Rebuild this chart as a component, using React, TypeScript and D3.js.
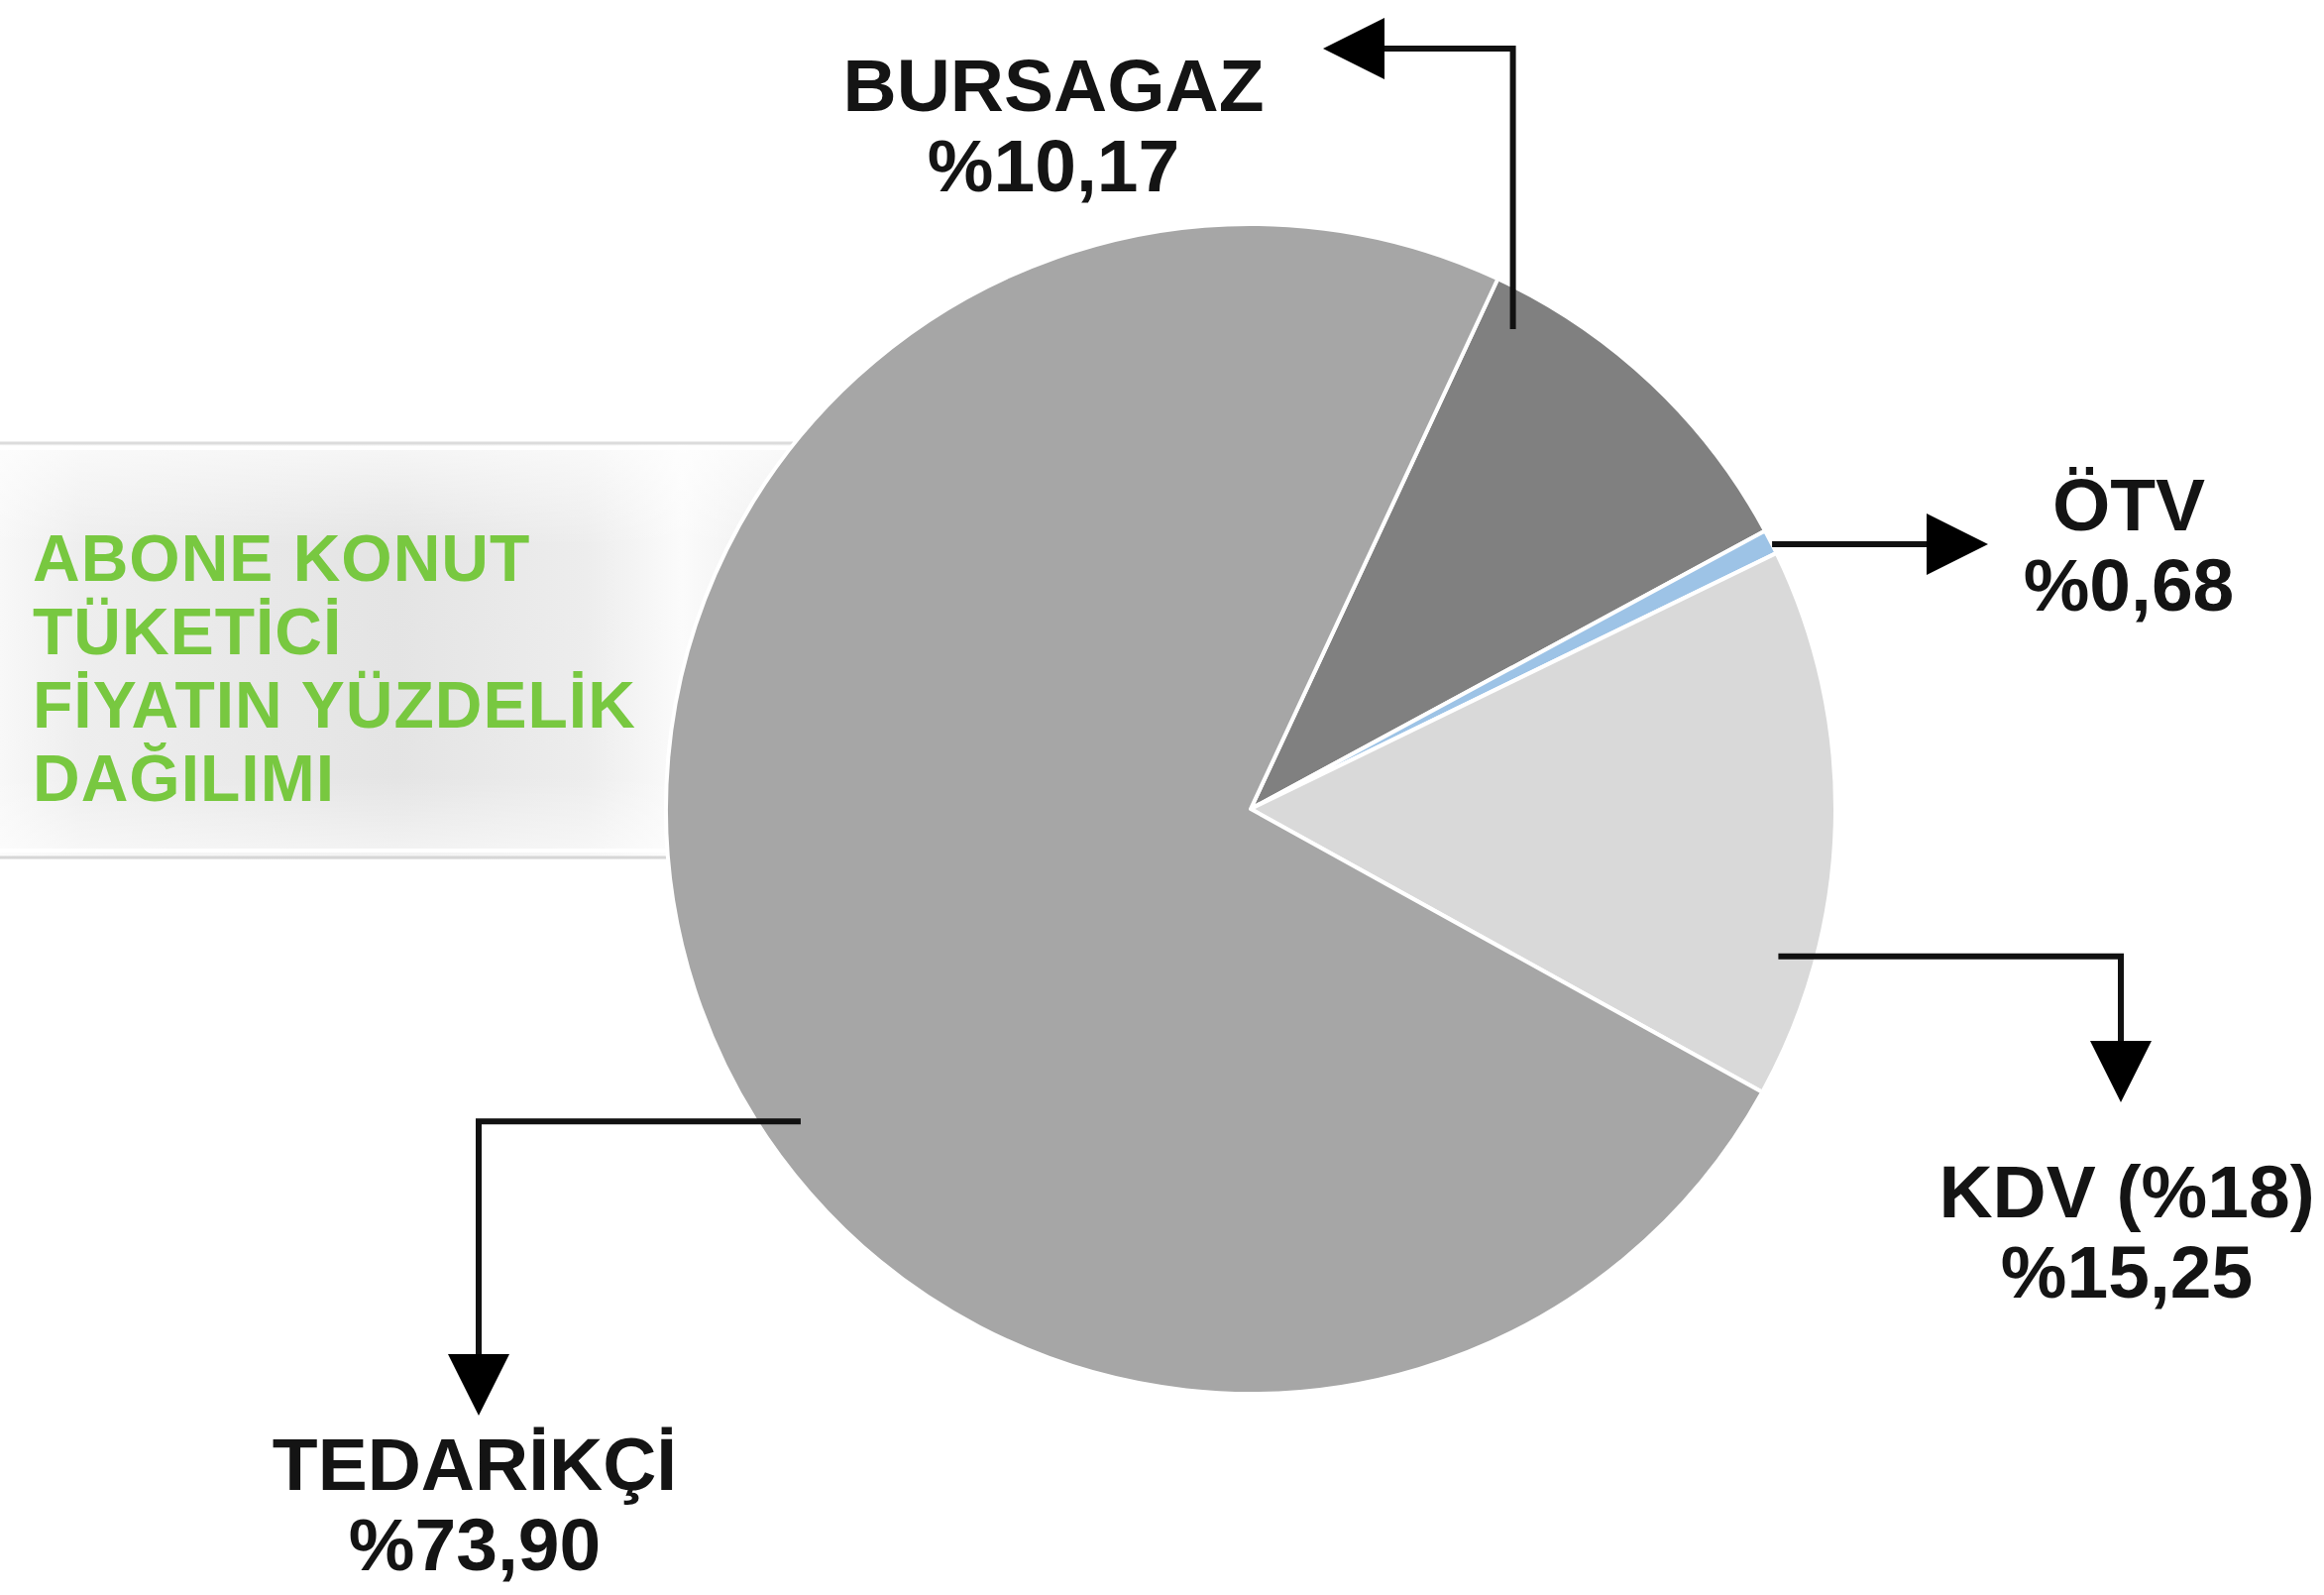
import { useEffect, useRef } from 'react';
import * as d3 from 'd3';

const categories = ['BURSAGAZ', 'ÖTV', 'KDV (%18)', 'TEDARİKÇİ'];
const shares = [10.17, 0.68, 15.25, 73.9];
const sliceColors = ['#808080', '#9dc3e6', '#d9d9d9', '#a6a6a6'];
const titleLines = ['ABONE KONUT', 'TÜKETİCİ', 'FİYATIN YÜZDELİK', 'DAĞILIMI'];

const W = 2345;
const H = 1609;
const cx = 1262;
const cy = 816;
const R = 590;
const startDeg = 25;
const font = '"Liberation Sans", Arial, Helvetica, sans-serif';

// t = where along the slice the callout leaves it, r = fraction of radius
const callouts = [
    { t: 0.1, r: 0.935, bends: p => [[p[0], 49]], tip: () => [1335, 49], label: [1063, 112] },
    { t: 0.6, r: 1.0, bends: () => [], tip: p => [2006, p[1]], label: [2148, 535] },
    { t: 0.757, r: 0.937, bends: p => [[2140, p[1]]], tip: () => [2140, 1112], label: [2146, 1228] },
    { t: 0.437, r: 0.937, bends: p => [[483, p[1]]], tip: () => [483, 1428], label: [479, 1503] },
];

const fmt = v => '%' + v.toFixed(2).replace('.', ',');

function App() {
    const ref = useRef(null);

    useEffect(() => {
        const svg = d3.select(ref.current);
        svg.selectAll('*').remove();

        const defs = svg.append('defs');
        const gx = defs.append('linearGradient').attr('id', 'bannerX');
        [['0', '#f8f8f8'], ['0.1', '#eeeeee'], ['0.5', '#e4e4e4'], ['0.74', '#ededed'], ['0.86', '#fbfbfb'], ['1', '#ececec']]
            .forEach(([o, c]) => gx.append('stop').attr('offset', o).attr('stop-color', c));
        const gy = defs.append('linearGradient').attr('id', 'bannerY')
            .attr('x1', 0).attr('y1', 0).attr('x2', 0).attr('y2', 1);
        [['0', '#ffffff', 0.7], ['0.25', '#ffffff', 0], ['0.8', '#ffffff', 0], ['1', '#ffffff', 0.6]]
            .forEach(([o, c, a]) => gy.append('stop').attr('offset', o).attr('stop-color', c).attr('stop-opacity', a));

        // banner behind the pie
        const banner = svg.append('g');
        banner.append('rect').attr('x', 0).attr('y', 446).attr('width', 800).attr('height', 421).attr('fill', 'url(#bannerX)');
        banner.append('rect').attr('x', 0).attr('y', 446).attr('width', 800).attr('height', 421).attr('fill', 'url(#bannerY)');
        banner.append('line').attr('x1', 0).attr('x2', 800).attr('y1', 447).attr('y2', 447)
            .attr('stroke', '#dcdcdc').attr('stroke-width', 3);
        banner.append('line').attr('x1', 0).attr('x2', 800).attr('y1', 452).attr('y2', 452)
            .attr('stroke', '#ffffff').attr('stroke-width', 4);
        banner.append('line').attr('x1', 0).attr('x2', 800).attr('y1', 858).attr('y2', 858)
            .attr('stroke', '#ffffff').attr('stroke-width', 4);
        banner.append('line').attr('x1', 0).attr('x2', 800).attr('y1', 865).attr('y2', 865)
            .attr('stroke', '#d6d6d6').attr('stroke-width', 3);

        banner.append('text')
            .attr('font-family', font).attr('font-weight', 'bold').attr('font-size', 66)
            .attr('fill', '#78c840').attr('letter-spacing', 1)
            .selectAll('tspan').data(titleLines).join('tspan')
            .attr('x', 33).attr('y', (d, i) => 586 + i * 74)
            .text(d => d);

        const pie = d3.pie().sort(null)
            .startAngle(startDeg * Math.PI / 180)
            .endAngle((startDeg + 360) * Math.PI / 180);
        const arcs = pie(shares);
        const arc = d3.arc().innerRadius(0).outerRadius(R);

        svg.append('g')
            .attr('transform', `translate(${cx},${cy})`)
            .selectAll('path')
            .data(arcs)
            .join('path')
            .attr('d', arc)
            .attr('fill', (d, i) => sliceColors[i])
            .attr('stroke', '#ffffff')
            .attr('stroke-width', 4)
            .attr('stroke-linejoin', 'round');

        const line = d3.line();
        const notes = svg.append('g');
        arcs.forEach((a, i) => {
            const c = callouts[i];
            const ang = a.startAngle + c.t * (a.endAngle - a.startAngle);
            const p = d3.pointRadial(ang, c.r * R);
            const start = [cx + p[0], cy + p[1]];
            const tip = c.tip(start);
            const pts = [start, ...c.bends(start)];
            const last = pts[pts.length - 1];
            const dx = tip[0] - last[0];
            const dy = tip[1] - last[1];
            const len = Math.hypot(dx, dy);
            const ux = dx / len;
            const uy = dy / len;
            const headLen = 62;
            const half = 31;
            const base = [tip[0] - ux * headLen, tip[1] - uy * headLen];
            notes.append('path')
                .attr('d', line([...pts, base]))
                .attr('fill', 'none')
                .attr('stroke', '#111111')
                .attr('stroke-width', 6);
            notes.append('path')
                .attr('d', line([
                    tip,
                    [base[0] - uy * half, base[1] + ux * half],
                    [base[0] + uy * half, base[1] - ux * half],
                ]) + 'Z')
                .attr('fill', '#000000');

            const t = notes.append('text')
                .attr('font-family', font).attr('font-weight', 'bold').attr('font-size', 75)
                .attr('fill', '#141414').attr('text-anchor', 'middle');
            t.append('tspan').attr('x', c.label[0]).attr('y', c.label[1]).text(categories[i]);
            t.append('tspan').attr('x', c.label[0]).attr('y', c.label[1] + 81).text(fmt(shares[i]));
        });
    }, []);

    return (
        <div className="chart-container" style={{ position: 'absolute', left: 0, top: 0 }}>
            <svg ref={ref} width={W} height={H} style={{ display: 'block', background: '#ffffff' }} />
        </div>
    );
}

export default App;
